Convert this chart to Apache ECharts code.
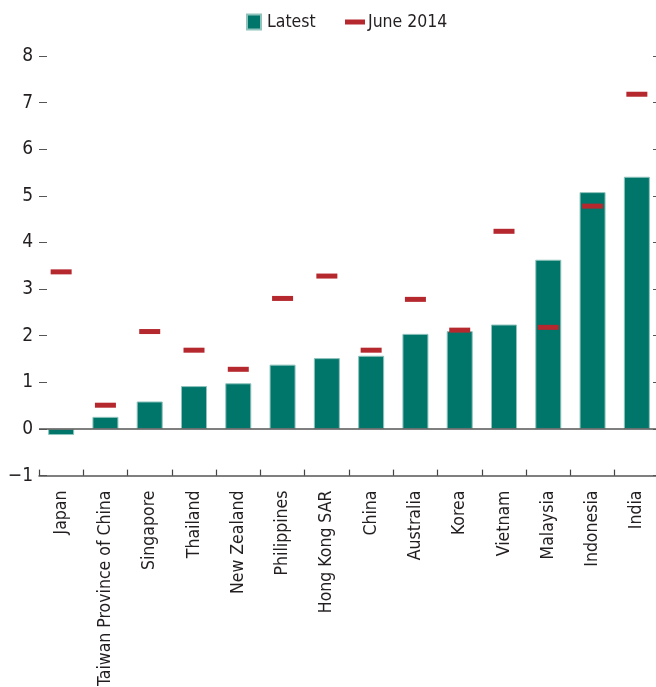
<!DOCTYPE html>
<html>
<head>
<meta charset="utf-8">
<script src="https://cdn.jsdelivr.net/npm/echarts@6/dist/echarts.min.js"></script>
<style>html,body{margin:0;padding:0;background:#fff}#c{width:656px;height:687px}</style>
</head>
<body>
<div id="c"></div>
<script>
const categories = ["Japan","Taiwan Province of China","Singapore","Thailand","New Zealand","Philippines","Hong Kong SAR","China","Australia","Korea","Vietnam","Malaysia","Indonesia","India"];
const latest = [-0.13,0.26,0.59,0.92,0.98,1.38,1.52,1.57,2.04,2.10,2.24,3.63,5.08,5.41];
const june2014 = [3.37,0.51,2.09,1.69,1.28,2.80,3.28,1.69,2.78,2.12,4.24,2.18,4.78,7.18];
const yTicks = [-1,0,1,2,3,4,5,6,7,8];

const FONT = "'Liberation Sans Narrow','DejaVu Sans Condensed',sans-serif";
const TXT = '#231f20';
const chart = echarts.init(document.getElementById('c'), null, {renderer:'canvas'});
chart.setOption({
  animation:false,
  textStyle:{fontFamily:FONT},
  legend:[
    {left:241, top:8, itemWidth:14, itemHeight:15, itemGap:0, icon:'rect', data:['Latest'],
     textStyle:{fontFamily:FONT,fontSize:17.5,color:TXT,padding:[0,0,0,1]}},
    {left:340, top:8, itemWidth:20, itemHeight:5, itemGap:0, icon:'rect', data:['June 2014'],
     textStyle:{fontFamily:FONT,fontSize:17.5,color:TXT,padding:[0,0,0,-2]}}
  ],
  grid:{left:39, top:56, width:620, bottom:211.4, containLabel:false, outerBoundsMode:'none'},
  xAxis:{type:'category', data:categories, position:'bottom',
    axisLine:{show:true,onZero:false,lineStyle:{color:'#555',width:1.5}},
    axisTick:{show:true,inside:true,length:6,interval:0,lineStyle:{color:'#444',width:1.2}},
    axisLabel:{rotate:90,interval:0,margin:15,fontFamily:FONT,fontSize:17.5,color:TXT}},
  yAxis:[
    {type:'value',min:yTicks[0],max:yTicks[yTicks.length-1],interval:1,
     axisLine:{show:false},
     axisTick:{show:true,inside:true,length:8,lineStyle:{color:'#555'}},
     splitLine:{show:false},
     axisLabel:{margin:6,fontFamily:FONT,fontSize:19,color:TXT,formatter:v=>String(v).replace('-','\u2212')}},
    {type:'value',min:yTicks[0],max:yTicks[yTicks.length-1],interval:1,position:'right',
     axisLine:{show:false},
     axisTick:{show:true,inside:true,length:6,lineStyle:{color:'#555'}},
     splitLine:{show:false},axisLabel:{show:false}}
  ],
  series:[
    {name:'Latest',type:'bar',data:latest,barWidth:26,
     itemStyle:{color:'#00756a',borderColor:'#8fc3bc',borderWidth:1},
     markLine:{silent:true,symbol:'none',label:{show:false},
       lineStyle:{color:'#555',width:1.5,type:'solid'},data:[{yAxis:0}]}},
    {name:'June 2014',type:'scatter',data:june2014,symbol:'rect',symbolSize:[21,5],
     itemStyle:{color:'#b5282e',opacity:1},z:5}
  ]
});
</script>
</body>
</html>
